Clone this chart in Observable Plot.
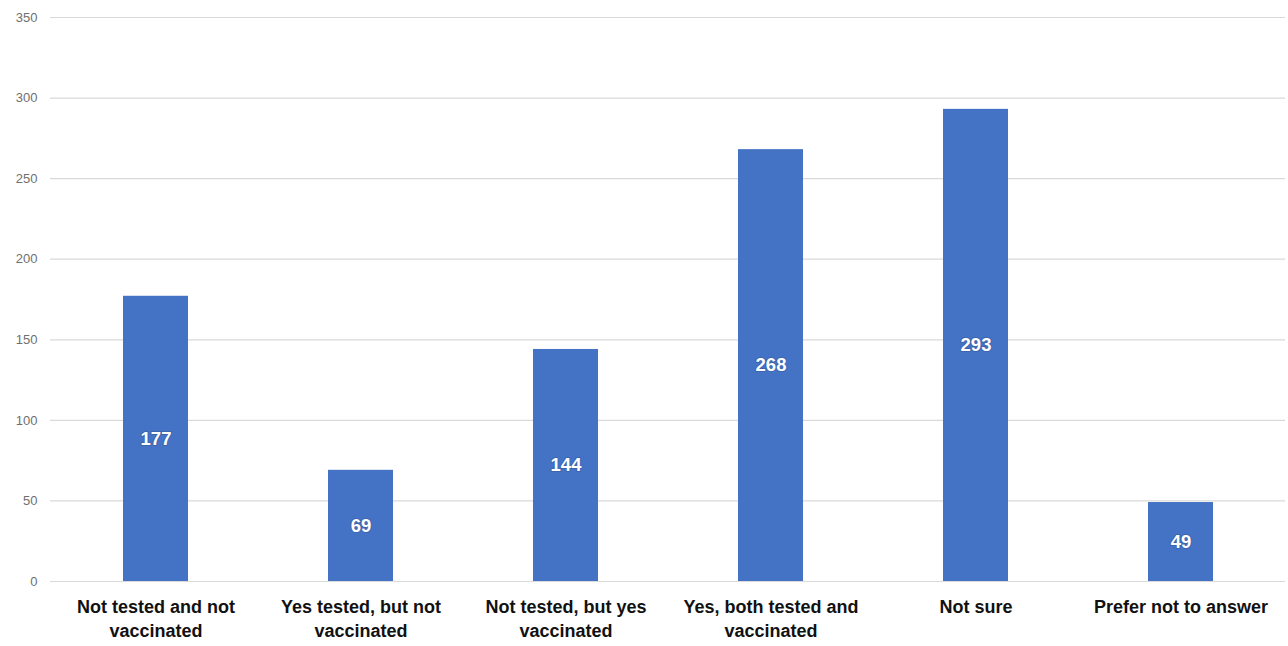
<!DOCTYPE html>
<html>
<head>
<meta charset="utf-8">
<script src="https://cdn.jsdelivr.net/npm/d3@7"></script>
<script src="https://cdn.jsdelivr.net/npm/@observablehq/plot@0.6"></script>
<style>
html, body { margin: 0; padding: 0; background: #fff; }
#chart { width: 1288px; height: 646px; }
</style>
</head>
<body>
<div id="chart"></div>
<script>
const categories = [
  "Not tested and not vaccinated",
  "Yes tested, but not vaccinated",
  "Not tested, but yes vaccinated",
  "Yes, both tested and vaccinated",
  "Not sure",
  "Prefer not to answer"
];
const categoryLabels = [
  "Not tested and not\nvaccinated",
  "Yes tested, but not\nvaccinated",
  "Not tested, but yes\nvaccinated",
  "Yes, both tested and\nvaccinated",
  "Not sure",
  "Prefer not to answer"
];
const counts = [177, 69, 144, 268, 293, 49];
const yTicks = [0, 50, 100, 150, 200, 250, 300, 350];

const data = categories.map((c, i) => ({category: c, count: counts[i]}));
const labelOf = new Map(categories.map((c, i) => [c, categoryLabels[i]]));

const chart = Plot.plot({
  width: 1288,
  height: 646,
  marginLeft: 50,
  marginRight: 3,
  marginTop: 17,
  marginBottom: 65,
  style: {fontFamily: "Liberation Sans, Arial, sans-serif", background: "#fff"},
  x: {domain: categories, paddingInner: 0.684, paddingOuter: 0.342, label: null},
  y: {domain: [0, 350], ticks: yTicks, label: null},
  marks: [
    Plot.gridY(yTicks, {stroke: "#d9d9d9", strokeOpacity: 1, strokeWidth: 1.2}),
    Plot.axisY(yTicks, {tickSize: 0, tickPadding: 0, dx: -13, fontSize: 13, fill: "#6f6f6f", label: null}),
    Plot.barY(data, {x: "category", y: "count", fill: "#4472c4"}),
    Plot.text(data, {
      x: "category", y: d => d.count / 2, text: d => String(d.count),
      fill: "white", fontSize: 18.5, fontWeight: "bold",
      stroke: "#2f4f8a", strokeWidth: 2, strokeOpacity: 0.35, paintOrder: "stroke"
    }),
    Plot.axisX({
      tickSize: 0, tickPadding: 14, fontSize: 18, fontWeight: "bold", fill: "#111",
      lineHeight: 1.36, textAnchor: "middle",
      tickFormat: d => labelOf.get(d), label: null
    })
  ]
});
document.getElementById("chart").appendChild(chart);
</script>
</body>
</html>
